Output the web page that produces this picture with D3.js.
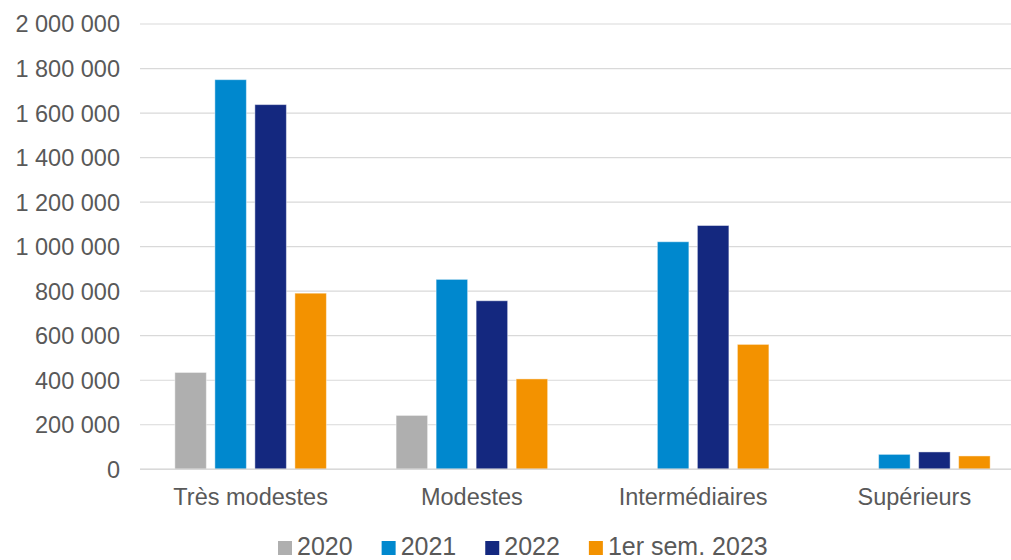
<!DOCTYPE html>
<html>
<head>
<meta charset="utf-8">
<script src="https://cdn.jsdelivr.net/npm/d3@7"></script>
<style>
  body { margin: 0; background: #fff; }
  svg { display: block; font-family: "Liberation Sans", Arial, sans-serif; }
</style>
</head>
<body>
<div id="chart"></div>
<script>
//************* data ***************/
var categories = ["Très modestes", "Modestes", "Intermédiaires", "Supérieurs"];
var seriesNames = ["2020", "2021", "2022", "1er sem. 2023"];
var values2020 = [435000, 242000, 0, 0];
var values2021 = [1750000, 853000, 1022000, 67000];
var values2022 = [1638000, 757000, 1095000, 78000];
var values2023 = [791000, 406000, 561000, 60000];
var yTicks = [0, 200000, 400000, 600000, 800000, 1000000, 1200000, 1400000, 1600000, 1800000, 2000000];
var seriesColors = ["#afafaf", "#0088ce", "#14287f", "#f39200"];

var allValues = [values2020, values2021, values2022, values2023];

//************* dimensions ***************/
var W = 1011, H = 560;
var plot = {left: 140, right: 1025, top: 24, bottom: 469.3};

var svg = d3.select("#chart").append("svg")
    .attr("width", W)
    .attr("height", H);

//************* scales ***************/
var x0 = d3.scaleBand()
    .domain(categories)
    .range([plot.left, plot.right])
    .padding(0);

var x1 = d3.scaleBand()
    .domain(seriesNames)
    .range([0, x0.bandwidth()])
    .paddingInner(0.2125)
    .paddingOuter(0.871);

var y = d3.scaleLinear()
    .domain([0, 2000000])
    .range([plot.bottom, plot.top]);

var fmt = function(d){ return d3.format(",")(d).replace(/,/g, " "); };

//************* gridlines ***************/
svg.append("g")
  .selectAll("line")
  .data(yTicks)
  .enter()
  .append("line")
    .attr("x1", plot.left)
    .attr("x2", W)
    .attr("y1", function(d){ return y(d); })
    .attr("y2", function(d){ return y(d); })
    .attr("stroke", "#d9d9d9")
    .attr("stroke-width", 1.2);

// y labels
svg.append("g")
  .selectAll("text")
  .data(yTicks)
  .enter()
  .append("text")
    .attr("x", 120)
    .attr("y", function(d){ return y(d); })
    .attr("dy", "0.36em")
    .attr("text-anchor", "end")
    .attr("font-size", "23.5px")
    .attr("fill", "#595959")
    .text(fmt);

//************* bars ***************/
var table = [];
categories.forEach(function(c, i){
  seriesNames.forEach(function(s, j){
    table.push({cat: c, series: s, value: allValues[j][i], color: seriesColors[j]});
  });
});

svg.append("g")
  .selectAll("rect")
  .data(table.filter(function(d){ return d.value > 0; }))
  .enter()
  .append("rect")
    .attr("x", function(d){ return x0(d.cat) + x1(d.series); })
    .attr("width", x1.bandwidth())
    .attr("y", function(d){ return y(d.value); })
    .attr("height", function(d){ return y(0) - y(d.value); })
    .attr("fill", function(d){ return d.color; })
    .attr("stroke", "#ffffff")
    .attr("stroke-opacity", 0.45)
    .attr("stroke-width", 1);

// baseline
svg.append("line")
    .attr("x1", plot.left)
    .attr("x2", W)
    .attr("y1", y(0))
    .attr("y2", y(0))
    .attr("stroke", "#d9d9d9")
    .attr("stroke-width", 1.5);

//************* x labels ***************/
svg.append("g")
  .selectAll("text")
  .data(categories)
  .enter()
  .append("text")
    .attr("x", function(d){ return x0(d) + x0.bandwidth() / 2; })
    .attr("y", 505)
    .attr("text-anchor", "middle")
    .attr("font-size", "23.5px")
    .attr("fill", "#595959")
    .text(function(d){ return d; });

//************* legend ***************/
var legend = svg.append("g");
var lx = 278;
seriesNames.forEach(function(s, i){
  legend.append("rect")
    .attr("x", lx)
    .attr("y", 541)
    .attr("width", 14)
    .attr("height", 14)
    .attr("fill", seriesColors[i]);
  var t = legend.append("text")
    .attr("x", lx + 19)
    .attr("y", 555)
    .attr("font-size", "25px")
    .attr("fill", "#595959")
    .text(s);
  lx += 19 + t.node().getComputedTextLength() + 29;
});
</script>
</body>
</html>
